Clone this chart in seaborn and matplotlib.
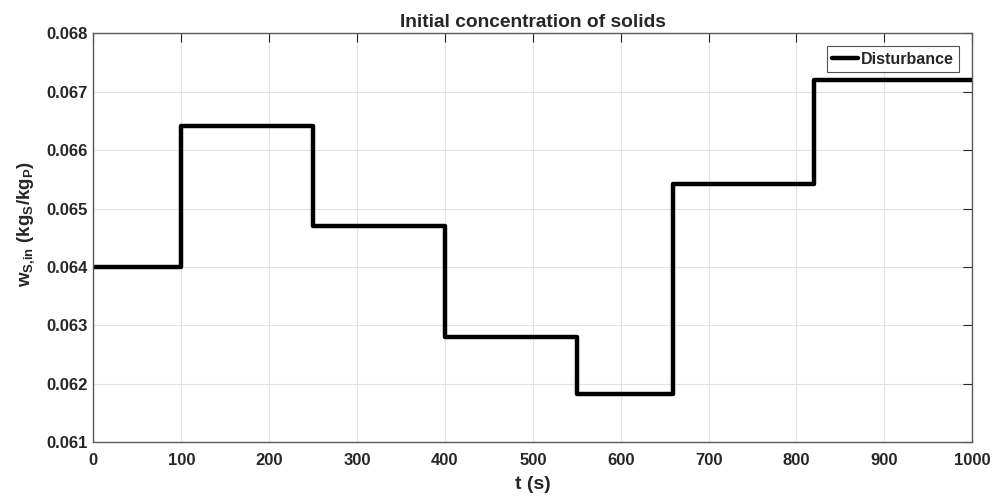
import pandas as pd
import matplotlib
matplotlib.use('Agg')
import matplotlib.pyplot as plt
import seaborn as sns

# Step disturbance: switching times and the level held after each switch
switch_times = [0, 100, 250, 400, 550, 660, 820]
levels = [0.0640, 0.06642, 0.0647, 0.0628, 0.06182, 0.06542, 0.0672]
t_end = 1000

x_ticks = [0, 100, 200, 300, 400, 500, 600, 700, 800, 900, 1000]
y_ticks = [0.061, 0.062, 0.063, 0.064, 0.065, 0.066, 0.067, 0.068]

df = pd.DataFrame({'t': switch_times + [t_end], 'w': levels + [levels[-1]]})

sns.set_style('white')
plt.rcParams['font.family'] = ['Liberation Sans', 'DejaVu Sans']
plt.rcParams['font.weight'] = 'bold'
plt.rcParams['mathtext.fontset'] = 'custom'
plt.rcParams['mathtext.rm'] = 'Liberation Sans:bold'
plt.rcParams['mathtext.it'] = 'Liberation Sans:bold'
plt.rcParams['mathtext.bf'] = 'Liberation Sans:bold'
plt.rcParams['mathtext.default'] = 'bf'

fig = plt.figure(figsize=(9.94, 4.97), dpi=100)
ax = fig.add_axes([0.094, 0.1107, 0.884, 0.822])

sns.lineplot(data=df, x='t', y='w', drawstyle='steps-post', color='black',
             linewidth=3.2, label='Disturbance', ax=ax)

ax.set_xlim(0, 1000)
ax.set_ylim(0.061, 0.068)
ax.set_xticks(x_ticks)
ax.set_yticks(y_ticks)
ax.set_xticklabels([str(v) for v in x_ticks])
ax.set_yticklabels([f'{v:.3f}' for v in y_ticks])
ax.grid(True, color='#e3e3e3', linewidth=0.8)
ax.set_axisbelow(True)

for s in ax.spines.values():
    s.set_color('#5a5a5a')
    s.set_linewidth(1.0)
ax.tick_params(direction='in', length=6.5, width=0.8, color='#262626',
               top=True, right=True, labelsize=12, labelcolor='#262626')
ax.tick_params(axis='x', pad=8)
ax.tick_params(axis='y', pad=4)
for lab in ax.get_xticklabels() + ax.get_yticklabels():
    lab.set_fontweight('bold')

ax.set_title('Initial concentration of solids', fontsize=13.8, fontweight='bold', pad=5)
ax.set_xlabel('t (s)', fontsize=14, fontweight='bold', color='#262626', labelpad=6)
ax.set_ylabel('w$_{S{,}in}$ (kg$_S$/kg$_P$)', fontsize=13.5, fontweight='bold',
              color='#262626')
ax.yaxis.set_label_coords(-0.064, 0.534)

leg = ax.legend(loc='upper right', frameon=True, fancybox=False,
                handlelength=1.6, handletextpad=0.2, borderpad=0.35,
                borderaxespad=0.8, prop={'weight': 'bold', 'size': 11.5})
leg.get_frame().set_edgecolor('#262626')
leg.get_frame().set_linewidth(0.8)

fig.savefig('out.png', dpi=100)
